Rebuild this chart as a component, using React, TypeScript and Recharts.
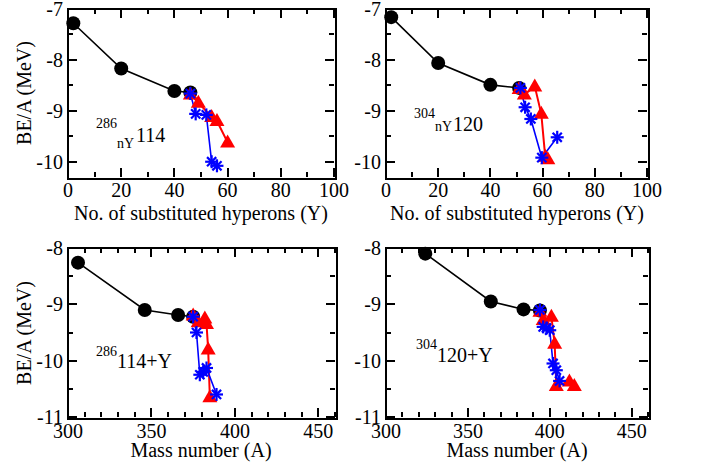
import React from 'react';
import { LineChart, Line, XAxis, YAxis } from 'recharts';

const FONT = '"Liberation Serif", "Times New Roman", Times, serif';
const RED = '#ff0000';
const BLUE = '#0000ff';
const INK = '#000000';

// ---------- axis ticks ----------
const hypMajorTicks = [0, 20, 40, 60, 80, 100];
const hypAllTicks = [0, 10, 20, 30, 40, 50, 60, 70, 80, 90, 100];
const hypDomain = [0, 100];
const massMajorTicks = [300, 350, 400, 450];
const massAllTicks = [300, 310, 320, 330, 340, 350, 360, 370, 380, 390, 400, 410, 420, 430, 440, 450, 460];
const massDomain = [300, 460];
const beTopMajorTicks = [-10, -9, -8, -7];
const beTopAllTicks = [-10, -9.5, -9, -8.5, -8, -7.5, -7];
const beTopDomain = [-10.3, -7];
const beBotMajorTicks = [-11, -10, -9, -8];
const beBotAllTicks = [-11, -10.5, -10, -9.5, -9, -8.5, -8];
const beBotDomain = [-11, -8];

// ---------- panel (a): 286_nY 114 vs number of hyperons ----------
const aBlackX = [2, 20, 40, 46];
const aBlackBE = [-7.28, -8.17, -8.61, -8.64];
const aRedX = [46, 49, 54, 56, 60];
const aRedBE = [-8.68, -8.84, -9.12, -9.2, -9.62];
const aBlueX = [46, 48, 52, 54, 56];
const aBlueBE = [-8.66, -9.06, -9.08, -10.0, -10.08];

// ---------- panel (b): 304_nY 120 vs number of hyperons ----------
const bBlackX = [2, 20, 40, 51];
const bBlackBE = [-7.16, -8.06, -8.49, -8.55];
const bRedX = [51, 53, 57, 59.5, 61, 62];
const bRedBE = [-8.57, -8.68, -8.52, -9.06, -9.9, -9.95];
const bBlueX = [51.5, 53.3, 55.5, 59.7, 65.6];
const bBlueBE = [-8.55, -8.93, -9.16, -9.92, -9.52];

// ---------- panel (c): 286 114 + Y vs mass number ----------
const cBlackA = [306, 346, 366, 375];
const cBlackBE = [-8.26, -9.1, -9.19, -9.22];
const cRedA = [375, 378, 382, 383, 384, 385];
const cRedBE = [-9.2, -9.32, -9.25, -9.35, -9.8, -10.65];
const cBlueA = [375, 377, 379, 381, 383, 389];
const cBlueBE = [-9.22, -9.5, -10.25, -10.2, -10.13, -10.6];

// ---------- panel (d): 304 120 + Y vs mass number ----------
const dBlackA = [324, 364, 384, 394];
const dBlackBE = [-8.1, -8.95, -9.09, -9.11];
const dRedA = [394, 396, 401, 403, 404, 412, 415];
const dRedBE = [-9.13, -9.28, -9.22, -9.7, -10.45, -10.37, -10.45];
const dBlueA = [394, 396, 398, 400, 402, 404, 406];
const dBlueBE = [-9.1, -9.4, -9.42, -9.46, -10.05, -10.17, -10.36];

const zip = (xs: number[], ys: number[]) => xs.map((x, i) => ({ x, y: ys[i] }));
const isIn = (arr: number[], v: number) => arr.some((a) => Math.abs(a - v) < 1e-9);

// ---------- markers ----------
function CircleDot(p: any) {
  if (p.cx == null || p.cy == null) return <g key={p.key} />;
  return <circle key={p.key} cx={p.cx} cy={p.cy} r={7} fill={INK} />;
}
function TriDot(p: any) {
  const { cx, cy } = p;
  if (cx == null || cy == null) return <g key={p.key} />;
  return (
    <polygon
      key={p.key}
      points={`${cx},${cy - 8} ${cx - 7.5},${cy + 5} ${cx + 7.5},${cy + 5}`}
      fill={RED}
    />
  );
}
function StarDot(p: any) {
  const { cx, cy } = p;
  if (cx == null || cy == null) return <g key={p.key} />;
  const r = 6.5;
  const d = r * 0.7071;
  return (
    <g key={p.key} stroke={BLUE} strokeWidth={2.2}>
      <line x1={cx - r} y1={cy} x2={cx + r} y2={cy} />
      <line x1={cx} y1={cy - r} x2={cx} y2={cy + r} />
      <line x1={cx - d} y1={cy - d} x2={cx + d} y2={cy + d} />
      <line x1={cx - d} y1={cy + d} x2={cx + d} y2={cy - d} />
    </g>
  );
}

// ---------- tick labels (through the axes) ----------
const bottomLabel = (labelOffset: number) => (p: any) => {
  const { x, y, payload } = p;
  return (
    <text x={x} y={y + labelOffset} textAnchor="middle" fontSize={20} fontFamily={FONT} fill={INK}>
      {payload.value}
    </text>
  );
};
const leftLabel = (p: any) => {
  const { x, y, payload } = p;
  return (
    <text x={x - 5} y={y + 7} textAnchor="end" fontSize={20} fontFamily={FONT} fill={INK}>
      {payload.value}
    </text>
  );
};

type PanelProps = {
  left: number;
  top: number;
  width: number;
  height: number;
  margin: { top: number; right: number; bottom: number; left: number };
  yWidth: number;
  xDomain: number[];
  xAll: number[];
  xMajor: number[];
  xLabelOffset: number;
  yDomain: number[];
  yAll: number[];
  yMajor: number[];
  black: { x: number; y: number }[];
  red: { x: number; y: number }[];
  blue: { x: number; y: number }[];
  children?: React.ReactNode;
};

const X_AXIS_H = 40;

// frame with inward ticks (HTML boxes laid over the plot rectangle)
function Frame(pp: PanelProps) {
  const px = pp.margin.left + pp.yWidth;
  const py = pp.margin.top;
  const pw = pp.width - px - pp.margin.right;
  const ph = pp.height - py - pp.margin.bottom - X_AXIS_H;
  const [x0, x1] = pp.xDomain;
  const [y0, y1] = pp.yDomain;
  const sx = (v: number) => ((v - x0) / (x1 - x0)) * pw;
  const sy = (v: number) => ph - ((v - y0) / (y1 - y0)) * ph;
  const marks: React.ReactNode[] = [];
  const box = (key: string, l: number, t: number, w: number, h: number) => (
    <div key={key} style={{ position: 'absolute', left: l, top: t, width: w, height: h, background: INK }} />
  );
  pp.xAll.forEach((v) => {
    const len = isIn(pp.xMajor, v) ? 9 : 5;
    const X = sx(v);
    marks.push(box(`b${v}`, X - 1, ph - len, 2, len));
    marks.push(box(`t${v}`, X - 1, 0, 2, len));
  });
  pp.yAll.forEach((v) => {
    const len = isIn(pp.yMajor, v) ? 9 : 5;
    const Y = sy(v);
    marks.push(box(`l${v}`, 0, Y - 1, len, 2));
    marks.push(box(`r${v}`, pw - len, Y - 1, len, 2));
  });
  return (
    <div
      style={{
        position: 'absolute',
        left: px - 1,
        top: py - 1,
        width: pw,
        height: ph,
        border: `2px solid ${INK}`,
        boxSizing: 'content-box',
        pointerEvents: 'none',
        zIndex: 0,
      }}
    >
      <div style={{ position: 'absolute', left: -1, top: -1, width: pw + 2, height: ph + 2 }}>
        {marks}
      </div>
    </div>
  );
}

function Panel(pp: PanelProps) {
  return (
    <div style={{ position: 'absolute', left: pp.left, top: pp.top, width: pp.width, height: pp.height }}>
      <Frame {...pp} />
      <div style={{ position: 'absolute', left: 0, top: 0, zIndex: 1 }}>
        <LineChart width={pp.width} height={pp.height} margin={pp.margin}>
          <XAxis
            xAxisId="b"
            type="number"
            dataKey="x"
            orientation="bottom"
            domain={pp.xDomain}
            ticks={pp.xMajor}
            interval={0}
            tickSize={0}
            tickMargin={0}
            tickLine={false}
            height={X_AXIS_H}
            axisLine={false}
            tick={bottomLabel(pp.xLabelOffset)}
          />
          <YAxis
            yAxisId="l"
            type="number"
            dataKey="y"
            orientation="left"
            domain={pp.yDomain}
            ticks={pp.yMajor}
            interval={0}
            tickSize={0}
            tickMargin={0}
            tickLine={false}
            width={pp.yWidth}
            axisLine={false}
            tick={leftLabel}
          />
          <Line
            xAxisId="b"
            yAxisId="l"
            data={pp.black}
            dataKey="y"
            type="linear"
            stroke={INK}
            strokeWidth={1.6}
            dot={CircleDot}
            activeDot={false}
            isAnimationActive={false}
          />
          <Line
            xAxisId="b"
            yAxisId="l"
            data={pp.red}
            dataKey="y"
            type="linear"
            stroke={RED}
            strokeWidth={2}
            dot={TriDot}
            activeDot={false}
            isAnimationActive={false}
          />
          <Line
            xAxisId="b"
            yAxisId="l"
            data={pp.blue}
            dataKey="y"
            type="linear"
            stroke={BLUE}
            strokeWidth={1.6}
            dot={StarDot}
            activeDot={false}
            isAnimationActive={false}
          />
          {pp.children}
        </LineChart>
      </div>
    </div>
  );
}

const T = (props: any) => <text fontFamily={FONT} fill={INK} {...props} />;

export default function App() {
  return (
    <div style={{ position: 'absolute', left: 0, top: 0, width: 704, height: 470, background: '#fff' }}>
      <Panel
        left={0}
        top={0}
        width={352}
        height={235}
        margin={{ top: 9, right: 18, bottom: 18, left: 0 }}
        yWidth={68}
        xDomain={hypDomain}
        xAll={hypAllTicks}
        xMajor={hypMajorTicks}
        xLabelOffset={20}
        yDomain={beTopDomain}
        yAll={beTopAllTicks}
        yMajor={beTopMajorTicks}
        black={zip(aBlackX, aBlackBE)}
        red={zip(aRedX, aRedBE)}
        blue={zip(aBlueX, aBlueBE)}
      >
        <T x={201} y={220} fontSize={20} textAnchor="middle">No. of substituted hyperons (Y)</T>
        <T x={31} y={93} fontSize={20} textAnchor="middle" transform="rotate(-90 31 93)">BE/A (MeV)</T>
        <T x={96} y={128} fontSize={14}>286</T>
        <T x={117} y={148} fontSize={14}>nY</T>
        <T x={136} y={142} fontSize={20}>114</T>
      </Panel>
      <Panel
        left={352}
        top={0}
        width={352}
        height={235}
        margin={{ top: 9, right: 57, bottom: 18, left: 0 }}
        yWidth={34}
        xDomain={hypDomain}
        xAll={hypAllTicks}
        xMajor={hypMajorTicks}
        xLabelOffset={20}
        yDomain={beTopDomain}
        yAll={beTopAllTicks}
        yMajor={beTopMajorTicks}
        black={zip(bBlackX, bBlackBE)}
        red={zip(bRedX, bRedBE)}
        blue={zip(bBlueX, bBlueBE)}
      >
        <T x={165} y={220} fontSize={20} textAnchor="middle">No. of substituted hyperons (Y)</T>
        <T x={62} y={118} fontSize={14}>304</T>
        <T x={83} y={131} fontSize={14}>nY</T>
        <T x={101} y={131} fontSize={20}>120</T>
      </Panel>
      <Panel
        left={0}
        top={235}
        width={352}
        height={235}
        margin={{ top: 13, right: 17, bottom: 13, left: 0 }}
        yWidth={68}
        xDomain={massDomain}
        xAll={massAllTicks}
        xMajor={massMajorTicks}
        xLabelOffset={21}
        yDomain={beBotDomain}
        yAll={beBotAllTicks}
        yMajor={beBotMajorTicks}
        black={zip(cBlackA, cBlackBE)}
        red={zip(cRedA, cRedBE)}
        blue={zip(cBlueA, cBlueBE)}
      >
        <T x={201} y={222} fontSize={20} textAnchor="middle">Mass number (A)</T>
        <T x={31} y={98} fontSize={20} textAnchor="middle" transform="rotate(-90 31 98)">BE/A (MeV)</T>
        <T x={96} y={121} fontSize={14}>286</T>
        <T x={117} y={133} fontSize={20}>114+Y</T>
      </Panel>
      <Panel
        left={352}
        top={235}
        width={352}
        height={235}
        margin={{ top: 13, right: 56, bottom: 13, left: 0 }}
        yWidth={34}
        xDomain={massDomain}
        xAll={massAllTicks}
        xMajor={massMajorTicks}
        xLabelOffset={21}
        yDomain={beBotDomain}
        yAll={beBotAllTicks}
        yMajor={beBotMajorTicks}
        black={zip(dBlackA, dBlackBE)}
        red={zip(dRedA, dRedBE)}
        blue={zip(dBlueA, dBlueBE)}
      >
        <T x={165} y={222} fontSize={20} textAnchor="middle">Mass number (A)</T>
        <T x={64} y={114} fontSize={14}>304</T>
        <T x={85} y={127} fontSize={20}>120+Y</T>
      </Panel>
    </div>
  );
}
